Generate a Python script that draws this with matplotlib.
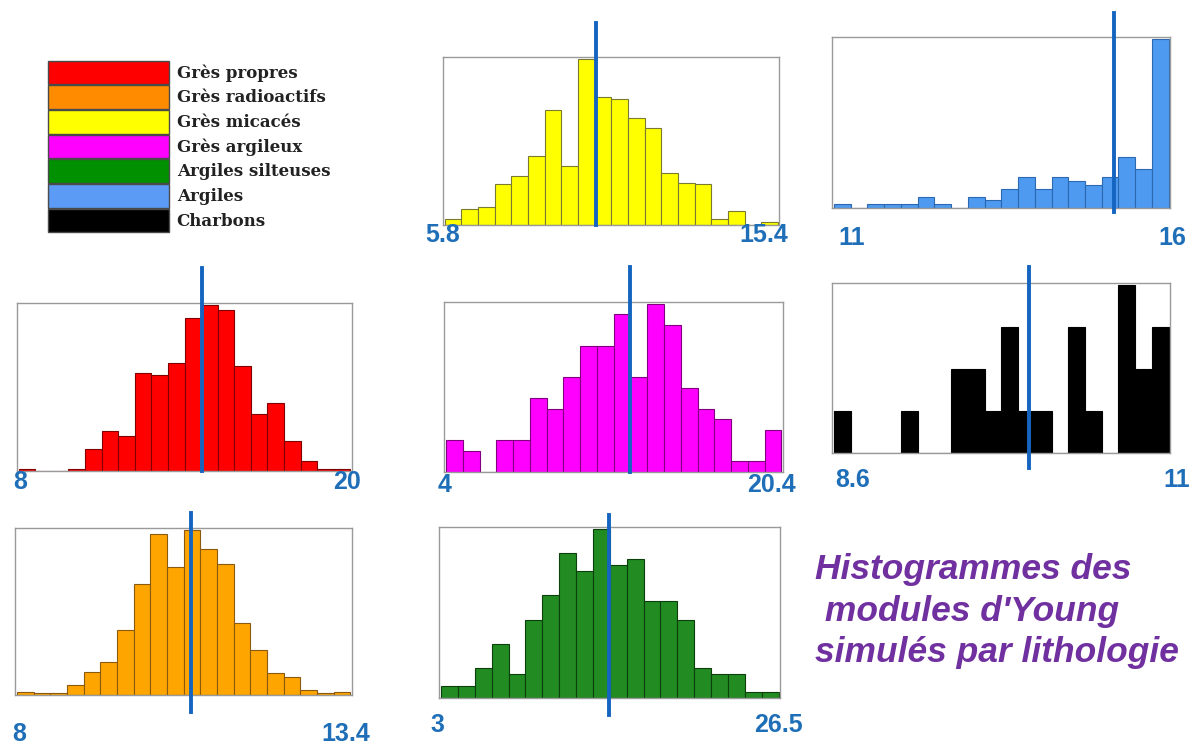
import numpy as np
import matplotlib
matplotlib.use("Agg")
import matplotlib.pyplot as plt
from matplotlib.patches import Rectangle

# ---- data -----------------------------------------------------------------
lithologies = ["Grès propres", "Grès radioactifs", "Grès micacés", "Grès argileux",
               "Argiles silteuses", "Argiles", "Charbons"]
legend_colors = ["#ff0000", "#ff8c00", "#ffff00", "#ff00ff", "#009000", "#5b9bf5", "#000000"]

# Young's modulus range (min, max) of each histogram
range_propres = (8, 20)
range_radio = (8, 13.4)
range_micaces = (5.8, 15.4)
range_argileux = (4, 20.4)
range_silteuses = (3, 26.5)
range_argiles = (11, 16)
range_charbons = (8.6, 11)

# mean value of each lithology (vertical line)
mean_propres = 14.65
mean_radio = 10.82
mean_micaces = 10.17
mean_argileux = 12.98
mean_silteuses = 14.68
mean_argiles = 15.19
mean_charbons = 10.0

# bin heights, 20 bins per histogram
counts_propres = [1, 0, 0, 1, 13, 24, 21, 59, 58, 65, 92, 100, 97, 63, 34, 41, 18, 6, 1, 1]
counts_radio = [2, 1, 1, 6, 14, 20, 39, 67, 97, 77, 99, 88, 79, 43, 27, 13, 11, 3, 1, 2]
counts_micaces = [4, 10, 11, 25, 30, 42, 70, 36, 101, 78, 77, 65, 59, 32, 26, 25, 4, 9, 0, 2]
counts_argileux = [3, 2, 0, 3, 3, 7, 6, 9, 12, 12, 15, 9, 16, 14, 8, 6, 5, 1, 1, 4]
counts_silteuses = [2, 2, 5, 9, 4, 13, 17, 24, 21, 28, 22, 23, 16, 16, 13, 5, 4, 4, 1, 1]
counts_argiles = [1, 0, 1, 1, 1, 3, 1, 0, 3, 2, 5, 8, 5, 8, 7, 6, 8, 13, 10, 43]
counts_charbons = [1, 0, 0, 0, 1, 0, 0, 2, 2, 1, 3, 1, 1, 0, 3, 1, 0, 4, 2, 3]

title_text = "Histogrammes des\n modules d'Young\nsimulés par lithologie"

# ---- figure ---------------------------------------------------------------
W, H = 1200, 746
fig = plt.figure(figsize=(W / 100, H / 100), dpi=100)
fig.patch.set_facecolor("white")

LINE_BLUE = "#1565c0"
LABEL_BLUE = "#1f6fb8"


def fx(px):
    return px / W


def fy(py):
    return 1 - py / H


panels = [
    # counts, range, mean, face, edge, box(x0,ytop,x1,ybot), line(top,bottom), left label, right label
    (counts_micaces, range_micaces, mean_micaces, "#ffff00", "#7a7a30",
     (442.7, 57.3, 779.3, 225.3), (23, 225), (442.5, 235), (764, 235)),
    (counts_argiles, range_argiles, mean_argiles, "#4d9af0", "#2c68b0",
     (832, 37.3, 1170, 208.3), (13, 212), (852, 238), (1172, 238)),
    (counts_propres, range_propres, mean_propres, "#ff0000", "#800000",
     (16.7, 302.7, 351.7, 471), (268, 471), (20, 482), (347, 482)),
    (counts_argileux, range_argileux, mean_argileux, "#ff00ff", "#800080",
     (444, 301.7, 782.7, 472), (267, 472), (445, 485), (771, 485)),
    (counts_charbons, range_charbons, mean_charbons, "#000000", "#000000",
     (832, 282.7, 1170, 452.7), (267, 468), (853, 480), (1177, 480)),
    (counts_radio, range_radio, mean_radio, "#ffa500", "#8a5a10",
     (15, 528.3, 351.7, 695), (513, 712), (19, 734), (346, 734)),
    (counts_silteuses, range_silteuses, mean_silteuses, "#228b22", "#0b3f0b",
     (439, 527.3, 780, 697.7), (515, 715), (437, 725), (778, 725)),
]

for counts, (lo, hi), mean, face, edge, box, line, lab_l, lab_r in panels:
    x0, y0, x1, y1 = box
    ax = fig.add_axes([fx(x0), fy(y1), (x1 - x0) / W, (y1 - y0) / H])
    counts = np.asarray(counts, dtype=float)
    edges = np.linspace(lo, hi, len(counts) + 1)
    ax.bar(edges[:-1], counts, width=np.diff(edges), align="edge",
           color=face, edgecolor=edge, linewidth=0.8, zorder=2)
    span = hi - lo
    ax.set_xlim(lo - 0.006 * span, hi + 0.004 * span)
    ax.set_ylim(0, counts.max() * 1.012)
    ax.set_xticks([])
    ax.set_yticks([])
    for sp in ax.spines.values():
        sp.set_color("#9a9a9a")
        sp.set_linewidth(1.0)
    lt, lb = line
    ax.axvline(mean, ymin=(y1 - lb) / (y1 - y0), ymax=(y1 - lt) / (y1 - y0),
               color=LINE_BLUE, lw=2.8, clip_on=False, zorder=5)
    for (px, py), v in ((lab_l, lo), (lab_r, hi)):
        fig.text(fx(px), fy(py), f"{v:g}", ha="center", va="center",
                 fontsize=18, fontweight="bold", color=LABEL_BLUE,
                 family="Liberation Sans")

# ---- legend ---------------------------------------------------------------
leg_x0, leg_x1 = 47.7, 169.3
leg_top, row_h = 60.7, 24.67
for i, (name, col) in enumerate(zip(lithologies, legend_colors)):
    top = leg_top + i * row_h
    fig.add_artist(Rectangle((fx(leg_x0), fy(top + row_h - 1)),
                             (leg_x1 - leg_x0) / W, (row_h - 1) / H,
                             transform=fig.transFigure, facecolor=col,
                             edgecolor="#4a4a4a", linewidth=1.0))
    fig.text(fx(176.7), fy(top + row_h / 2), name, ha="left", va="center",
             fontsize=12, fontweight="bold", color="#222222",
             family="DejaVu Serif")

# ---- title ----------------------------------------------------------------
fig.text(fx(815), fy(611), title_text, ha="left", va="center",
         fontsize=25.5, fontweight="bold", fontstyle="italic", color="#7030a0",
         family="Liberation Sans", linespacing=1.32)

fig.savefig("out.png", dpi=100, facecolor="white")
